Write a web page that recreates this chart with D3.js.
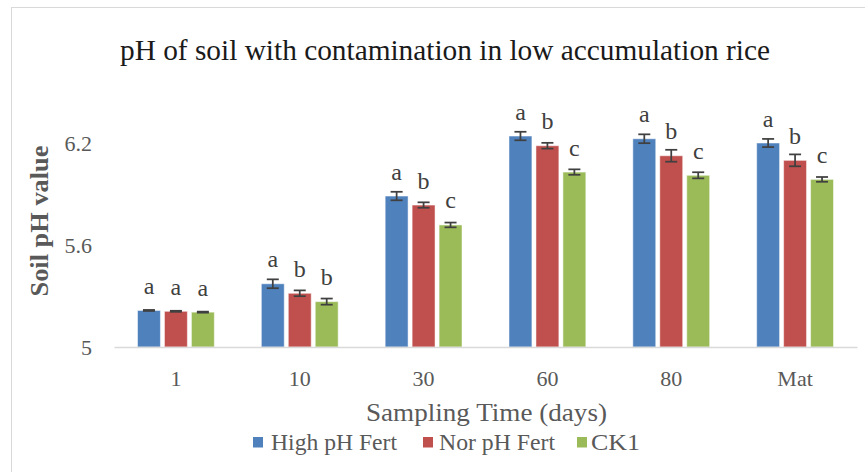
<!DOCTYPE html>
<html>
<head>
<meta charset="utf-8">
<title>pH of soil</title>
<script src="https://d3js.org/d3.v7.min.js"></script>
<style>
  body { margin: 0; background: #fff; }
  text { font-family: "Liberation Serif", "Times New Roman", serif; }
</style>
</head>
<body>
<svg id="mainsvg" width="865" height="472"></svg>
<script>
// ---------- data ----------
const categories = ["1", "10", "30", "60", "80", "Mat"];
const seriesNames = ["High pH Fert", "Nor pH Fert", "CK1"];
const highPH = [5.215, 5.372, 5.888, 6.241, 6.225, 6.200];
const norPH  = [5.210, 5.316, 5.835, 6.184, 6.125, 6.098];
const ck1    = [5.205, 5.267, 5.718, 6.029, 6.010, 5.986];
const highErr = [0.003, 0.026, 0.025, 0.025, 0.026, 0.024];
const norErr  = [0.003, 0.017, 0.016, 0.017, 0.035, 0.035];
const ckErr   = [0.003, 0.018, 0.014, 0.016, 0.018, 0.014];
const highSig = ["a", "a", "a", "a", "a", "a"];
const norSig  = ["a", "b", "b", "b", "b", "b"];
const ckSig   = ["a", "b", "c", "c", "c", "c"];
const yTicks = [5, 5.6, 6.2];
const colors = ["#4F81BD", "#C0504D", "#9BBB59"];

const values = [highPH, norPH, ck1];
const errors = [highErr, norErr, ckErr];
const sigs = [highSig, norSig, ckSig];

// ---------- canvas ----------
const svg = d3.select("#mainsvg");
const margin = {top: 41, left: 114, right: 8, bottom: 125};
const innerWidth = 865 - margin.left - margin.right;
const innerHeight = 472 - margin.top - margin.bottom;

// chart frame (cut by the picture edge)
svg.append("rect")
   .attr("x", 11.5).attr("y", 7.5)
   .attr("width", 900).attr("height", 500)
   .attr("fill", "none").attr("stroke", "#d9d9d9");

const g = svg.append("g").attr("transform", `translate(${margin.left},${margin.top})`);

const xScale = d3.scaleBand().domain(categories).range([0, innerWidth]);
const xInner = d3.scaleBand().domain(seriesNames)
  .range([23.5, xScale.bandwidth() - 23.5]).paddingInner(0.15);
const yScale = d3.scaleLinear().domain([5, 6.8]).range([innerHeight, 0]);

// table of rows
const rows = [];
categories.forEach((c, i) => {
  seriesNames.forEach((s, j) => {
    rows.push({cat: c, series: s, j: j, v: values[j][i], e: errors[j][i], sig: sigs[j][i]});
  });
});

// bars
g.selectAll("rect.bar").data(rows).join("rect")
  .attr("class", "bar")
  .attr("x", d => xScale(d.cat) + xInner(d.series))
  .attr("width", xInner.bandwidth())
  .attr("y", d => yScale(d.v))
  .attr("height", d => yScale(5) - yScale(d.v))
  .attr("fill", d => colors[d.j])
  .attr("stroke", "#ffffff").attr("stroke-opacity", 0.5).attr("stroke-width", 1);

// error bars
const cap = 6;
const eb = g.selectAll("g.err").data(rows).join("g").attr("class", "err")
  .attr("transform", d => `translate(${xScale(d.cat) + xInner(d.series) + xInner.bandwidth() / 2},0)`);
eb.append("line").attr("x1", 0).attr("x2", 0)
  .attr("y1", d => yScale(d.v + d.e)).attr("y2", d => yScale(d.v - d.e));
eb.append("line").attr("x1", -cap).attr("x2", cap)
  .attr("y1", d => yScale(d.v + d.e)).attr("y2", d => yScale(d.v + d.e));
eb.append("line").attr("x1", -cap).attr("x2", cap)
  .attr("y1", d => yScale(d.v - d.e)).attr("y2", d => yScale(d.v - d.e));
eb.selectAll("line").attr("stroke", "#404040").attr("stroke-width", 1.75);

// significance letters
g.selectAll("text.sig").data(rows).join("text")
  .attr("class", "sig")
  .attr("x", d => xScale(d.cat) + xInner(d.series) + xInner.bandwidth() / 2)
  .attr("y", d => yScale(d.v) - 16.5)
  .attr("text-anchor", "middle")
  .attr("font-size", 24)
  .attr("fill", "#404040")
  .text(d => d.sig);

// x axis
const xAxis = g.append("g").attr("transform", `translate(0,${innerHeight})`)
  .call(d3.axisBottom(xScale).tickSize(0).tickPadding(23));
xAxis.select(".domain").attr("stroke", "#d9d9d9").attr("stroke-width", 1.5);
xAxis.selectAll("text").attr("font-size", 22).attr("fill", "#595959")
  .attr("font-family", "Liberation Serif, serif");

// y axis (labels only)
const yAxis = g.append("g")
  .call(d3.axisLeft(yScale).tickValues(yTicks).tickSize(0).tickPadding(22).tickFormat(d3.format("")));
yAxis.select(".domain").remove();
yAxis.selectAll("text").attr("font-size", 22).attr("fill", "#595959")
  .attr("font-family", "Liberation Serif, serif");

// title
svg.append("text")
  .attr("x", 445).attr("y", 60)
  .attr("text-anchor", "middle")
  .attr("font-size", 29)
  .attr("textLength", 650).attr("lengthAdjust", "spacingAndGlyphs")
  .attr("fill", "#1a1a1a")
  .text("pH of soil with contamination in low accumulation rice");

// y axis title
svg.append("text")
  .attr("transform", "translate(48,221) rotate(-90)")
  .attr("text-anchor", "middle")
  .attr("font-size", 25)
  .attr("font-weight", "bold")
  .attr("textLength", 151).attr("lengthAdjust", "spacingAndGlyphs")
  .attr("fill", "#595959")
  .text("Soil pH value");

// x axis title
svg.append("text")
  .attr("x", 486.5).attr("y", 421)
  .attr("text-anchor", "middle")
  .attr("font-size", 25)
  .attr("textLength", 241).attr("lengthAdjust", "spacingAndGlyphs")
  .attr("fill", "#595959")
  .text("Sampling Time (days)");

// legend
const legendX = [253, 423, 577];
const legendW = [126, 116, 49];
const legend = svg.selectAll("g.legend").data(seriesNames).join("g")
  .attr("class", "legend")
  .attr("transform", (d, i) => `translate(${legendX[i]},437)`);
legend.append("rect").attr("x", 0).attr("y", 0).attr("width", 10).attr("height", 10.5)
  .attr("fill", (d, i) => colors[i]);
legend.append("text").attr("x", (d, i) => [18, 16, 14][i]).attr("y", 13)
  .attr("font-size", 22.5).attr("fill", "#595959")
  .attr("textLength", (d, i) => legendW[i]).attr("lengthAdjust", "spacingAndGlyphs")
  .text(d => d);
</script>
</body>
</html>
